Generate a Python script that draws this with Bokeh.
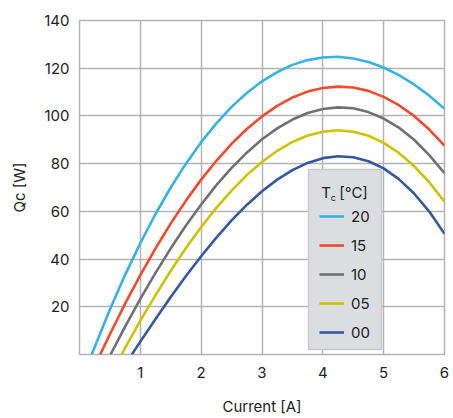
from bokeh.plotting import figure
from bokeh.models import Range1d, FixedTicker, Legend, LegendItem, Label, BoxAnnotation
from bokeh.embed import file_html
from bokeh.resources import INLINE

# Data (Current [A] vs Qc [W]) for each Tc
x_20 = [0.2, 0.5, 0.75, 1, 1.25, 1.5, 1.75, 2, 2.25, 2.5, 2.75, 3, 3.25, 3.5, 3.75, 4,
        4.25, 4.5, 4.75, 5, 5.25, 5.5, 5.75, 6]
q_20 = [0, 18.9, 33.4, 46.7, 58.9, 70.0, 80.0, 89.0, 96.9, 103.8, 109.6, 114.5, 118.4, 121.4,
        123.4, 124.5, 124.8, 124.1, 122.6, 120.3, 117.1, 113.2, 108.5, 103.0]

x_15 = [0.34, 0.5, 0.75, 1, 1.25, 1.5, 1.75, 2, 2.25, 2.5, 2.75, 3, 3.25, 3.5, 3.75, 4,
        4.25, 4.5, 4.75, 5, 5.25, 5.5, 5.75, 6]
q_15 = [0, 8.5, 21.3, 33.3, 44.5, 54.9, 64.5, 73.3, 81.2, 88.3, 94.5, 99.8, 104.2, 107.7,
        110.2, 111.7, 112.3, 111.9, 110.5, 108.0, 104.5, 100.0, 94.3, 87.6]

x_10 = [0.51, 0.75, 1, 1.25, 1.5, 1.75, 2, 2.25, 2.5, 2.75, 3, 3.25, 3.5, 3.75, 4,
        4.25, 4.5, 4.75, 5, 5.25, 5.5, 5.75, 6]
q_10 = [0, 11.7, 23.3, 34.2, 44.5, 54.1, 62.9, 71.0, 78.2, 84.6, 90.2, 94.8, 98.5, 101.2,
        102.9, 103.6, 103.2, 101.6, 98.9, 95.1, 90.0, 83.6, 76.0]

x_05 = [0.69, 0.75, 1, 1.25, 1.5, 1.75, 2, 2.25, 2.5, 2.75, 3, 3.25, 3.5, 3.75, 4,
        4.25, 4.5, 4.75, 5, 5.25, 5.5, 5.75, 6]
q_05 = [0, 2.8, 14.2, 24.9, 35.1, 44.6, 53.4, 61.5, 68.7, 75.2, 80.7, 85.4, 89.1, 91.8,
        93.4, 94.0, 93.4, 91.7, 88.7, 84.5, 79.0, 72.2, 64.0]

x_00 = [0.86, 1, 1.25, 1.5, 1.75, 2, 2.25, 2.5, 2.75, 3, 3.25, 3.5, 3.75, 4,
        4.25, 4.5, 4.75, 5, 5.25, 5.5, 5.75, 6]
q_00 = [0, 5.4, 14.9, 24.1, 32.9, 41.2, 49.0, 56.2, 62.7, 68.4, 73.3, 77.3, 80.3, 82.3,
        83.1, 82.7, 81.0, 78.0, 73.5, 67.5, 59.9, 50.6]

series_labels = ["20", "15", "10", "05", "00"]
series_colors = ["#38b2e4", "#f24a2b", "#717171", "#cdc300", "#3656a6"]
x_ticks = [1, 2, 3, 4, 5, 6]
y_ticks = [20, 40, 60, 80, 100, 120, 140]

FONT = "Inter"
FS = "15px"
TXT = "#222222"
GRID = "#b4b4b4"

p = figure(width=453, height=418, output_backend="svg", toolbar_location=None,
           x_range=Range1d(0, 6), y_range=Range1d(0, 140),
           min_border_left=79, min_border_right=9, min_border_top=20, min_border_bottom=64)
p.background_fill_color = "white"
p.border_fill_color = "white"
p.outline_line_color = GRID
p.outline_line_width = 1.5

p.xaxis.ticker = FixedTicker(ticks=x_ticks)
p.yaxis.ticker = FixedTicker(ticks=y_ticks)
for ax in (p.xaxis[0], p.yaxis[0]):
    ax.axis_line_color = None
    ax.major_tick_line_color = None
    ax.minor_tick_line_color = None
    ax.major_tick_out = 0
    ax.major_tick_in = 0
    ax.major_label_text_font = FONT
    ax.major_label_text_font_size = FS
    ax.major_label_text_color = TXT
    ax.axis_label_text_font = FONT
    ax.axis_label_text_font_size = FS
    ax.axis_label_text_font_style = "normal"
    ax.axis_label_text_color = TXT
p.xaxis.axis_label = "Current [A]"
p.yaxis.axis_label = "Qc [W]"
p.xaxis.major_label_standoff = 12
p.yaxis.major_label_standoff = 10
p.xaxis.axis_label_standoff = 16
p.yaxis.axis_label_standoff = 12

p.xgrid.grid_line_color = GRID
p.ygrid.grid_line_color = GRID
p.xgrid.grid_line_width = 1.5
p.ygrid.grid_line_width = 1.5

xs = [x_20, x_15, x_10, x_05, x_00]
qs = [q_20, q_15, q_10, q_05, q_00]
items = []
for xv, qv, lab, col in zip(xs, qs, series_labels, series_colors):
    r = p.line(xv, qv, line_color=col, line_width=2.6)
    items.append(LegendItem(label=lab, renderers=[r]))

# grey legend panel drawn beneath a transparent legend so the title can sit on top
p.add_layout(BoxAnnotation(left=3.765, right=4.965, top=77.5, bottom=2.1,
                           fill_color="#dcdde0", fill_alpha=1.0,
                           line_color="#c9c9c9", line_width=1.5, line_alpha=1.0,
                           level="annotation"))

legend = Legend(items=items, location=(240, 12), title=" ",
                title_text_font=FONT, title_text_font_size="14px",
                title_standoff=12,
                label_text_font=FONT, label_text_font_size=FS,
                label_text_color=TXT, label_standoff=7, label_width=24,
                label_height=20, glyph_width=25, glyph_height=20,
                spacing=9, padding=7, margin=0,
                background_fill_alpha=0.0, border_line_color=None,
                inactive_fill_alpha=0.0)
p.add_layout(legend, "center")

# legend title "T_c [°C]" (subscript c)
for txt, xx, yy, fs in (("T", 3.975, 67.8, FS), ("c", 4.13, 65.9, "9px"), ("[°C]", 4.27, 67.8, FS)):
    p.add_layout(Label(x=xx, y=yy, text=txt,
                       text_font=FONT, text_font_size=fs, text_color=TXT,
                       text_baseline="alphabetic", level="overlay"))

open("out.html", "w").write(file_html(p, INLINE))
